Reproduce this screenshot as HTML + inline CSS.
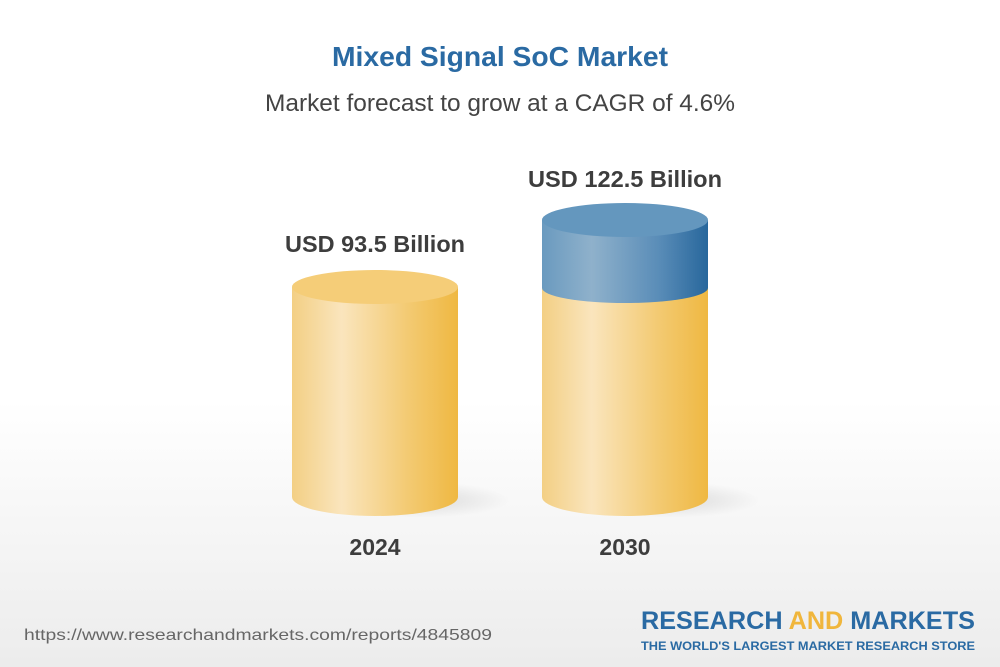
<!DOCTYPE html>
<html><head><meta charset="utf-8"><style>
html,body{margin:0;padding:0}
body{width:1000px;height:667px;overflow:hidden;position:relative;font-family:"Liberation Sans",Arial,sans-serif;background:linear-gradient(#ffffff 0%,#ffffff 60%,#f3f3f3 85%,#ececec 100%)}
</style></head><body>
<svg width="1000" height="667" style="position:absolute;left:0;top:0" font-family="Liberation Sans,Arial,sans-serif">
<defs>
<linearGradient id="y" x1="0" x2="1"><stop offset="0" stop-color="#f3cf84"/><stop offset="0.3" stop-color="#fae5bd"/><stop offset="0.7" stop-color="#f3ca72"/><stop offset="1" stop-color="#efb842"/></linearGradient>
<linearGradient id="b" x1="0" x2="1"><stop offset="0" stop-color="#6a9abf"/><stop offset="0.3" stop-color="#8fb1cb"/><stop offset="0.7" stop-color="#5a8db8"/><stop offset="1" stop-color="#28679c"/></linearGradient>
<radialGradient id="sh"><stop offset="0" stop-color="#000" stop-opacity="0.12"/><stop offset="1" stop-color="#000" stop-opacity="0"/></radialGradient>
</defs>
<text x="500" y="66" text-anchor="middle" font-size="28" font-weight="bold" fill="#2a6aa3" textLength="336" lengthAdjust="spacingAndGlyphs">Mixed Signal SoC Market</text>
<text x="500" y="111" text-anchor="middle" font-size="24" fill="#444" textLength="470" lengthAdjust="spacingAndGlyphs">Market forecast to grow at a CAGR of 4.6%</text>
<ellipse cx="420" cy="500" rx="90" ry="18" fill="url(#sh)"/>
<ellipse cx="670" cy="500" rx="90" ry="18" fill="url(#sh)"/>
<path d="M292 287 V497 A83 19 0 0 0 458 497 V287 Z" fill="url(#y)"/>
<ellipse cx="375" cy="287" rx="83" ry="17" fill="#f5cd78"/>
<path d="M542 288 V497 A83 19 0 0 0 708 497 V288 Z" fill="url(#y)"/>
<path d="M542 220 V288 A83 15 0 0 0 708 288 V220 Z" fill="url(#b)"/>
<ellipse cx="625" cy="220" rx="83" ry="17" fill="#6497be"/>
<text x="375" y="252" text-anchor="middle" font-size="23" font-weight="bold" fill="#3d3d3d" textLength="180" lengthAdjust="spacingAndGlyphs">USD 93.5 Billion</text>
<text x="625" y="187" text-anchor="middle" font-size="23" font-weight="bold" fill="#3d3d3d" textLength="194" lengthAdjust="spacingAndGlyphs">USD 122.5 Billion</text>
<text x="375" y="555" text-anchor="middle" font-size="23" font-weight="bold" fill="#3d3d3d">2024</text>
<text x="625" y="555" text-anchor="middle" font-size="23" font-weight="bold" fill="#3d3d3d">2030</text>
<text x="24" y="640" font-size="16" fill="#666" textLength="468" lengthAdjust="spacingAndGlyphs">https://www.researchandmarkets.com/reports/4845809</text>
<text x="808" y="629" text-anchor="middle" font-size="25" font-weight="bold" fill="#2a6aa3" textLength="334" lengthAdjust="spacingAndGlyphs">RESEARCH <tspan fill="#f0b63c">AND</tspan> MARKETS</text>
<text x="808" y="650" text-anchor="middle" font-size="12" font-weight="bold" fill="#2a6aa3" textLength="334" lengthAdjust="spacingAndGlyphs">THE WORLD'S LARGEST MARKET RESEARCH STORE</text>
</svg>
</body></html>
